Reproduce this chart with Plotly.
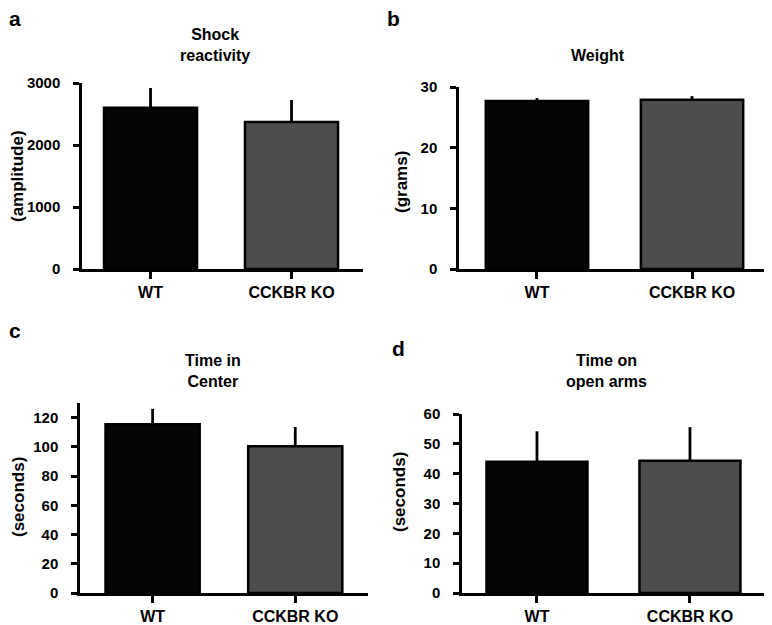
import plotly.graph_objects as go

groups = ["WT", "CCKBR KO"]
colors = ["#050505", "#4d4d4d"]

shock_mean = [2600, 2370]
shock_err = [320, 355]
weight_mean = [27.7, 27.9]
weight_err = [0.5, 0.6]
center_mean = [115.5, 100.4]
center_err = [10.5, 13.2]
arms_mean = [44.0, 44.3]
arms_err = [10.2, 11.3]

FONT = "Liberation Sans, Arial, Helvetica, sans-serif"
W, H = 772, 625
OFF = 8  # the page body adds an 8px margin around the figure


def fx(px):
    return (px - OFF) / W


def fy(py):
    return 1 - (py - OFF) / H


# panel: (means, errs, title, ytitle, letter, x px, y px, x range, y range, dtick)
panels = [
    (shock_mean, shock_err, "Shock<br>reactivity", "(amplitude)", "a",
     (82, 363), (269, 83), [-0.486, 1.507], [0, 3000], 1000),
    (weight_mean, weight_err, "Weight", "(grams)", "b",
     (459, 768), (269, 87), [-0.503, 1.49], [0, 30], 10),
    (center_mean, center_err, "Time in<br>Center", "(seconds)", "c",
     (80, 368), (593, 403), [-0.509, 1.51], [0, 130], 20),
    (arms_mean, arms_err, "Time on<br>open arms", "(seconds)", "d",
     (462, 768), (593, 414), [-0.49, 1.51], [0, 60], 10),
]

title_pos = [(215, 45), (598, 55), (213, 371), (606, 371)]
ytitle_pos = [(18, 176), (401, 182), (18, 497), (399, 492)]
letter_pos = [(15, 19), (393, 19), (15, 330), (398, 348)]

fig = go.Figure()
annotations = []

for i, (means, errs, title, ytitle, letter, xpx, ypx, xr, yr, dt) in enumerate(panels):
    n = "" if i == 0 else str(i + 1)
    fig.add_trace(go.Bar(
        x=groups, y=means,
        marker=dict(color=colors, line=dict(color="black", width=2.5)),
        width=0.66,
        error_y=dict(type="data", symmetric=False, array=errs,
                     arrayminus=[0] * len(errs), color="black",
                     thickness=2.8, width=0),
        xaxis="x" + n, yaxis="y" + n, showlegend=False,
    ))
    fig.layout["xaxis" + n] = dict(
        domain=[fx(xpx[0]), fx(xpx[1])], anchor="y" + n, type="category",
        range=xr, showline=True, linecolor="black", linewidth=2.5,
        ticks="outside", ticklen=7, tickwidth=2.5, tickcolor="black",
        tickfont=dict(family=FONT, size=16, color="black", weight="bold"),
        showgrid=False, zeroline=False, fixedrange=True, automargin=False,
    )
    fig.layout["yaxis" + n] = dict(
        domain=[fy(ypx[0]), fy(ypx[1])], anchor="x" + n,
        range=yr, dtick=dt, showline=True, linecolor="black", linewidth=2.5,
        ticks="outside", ticklen=6, tickwidth=2.5, tickcolor="black",
        ticklabelstandoff=10,
        tickfont=dict(family=FONT, size=15, color="black", weight="bold"),
        showgrid=False, zeroline=False, fixedrange=True, automargin=False,
    )
    tx, ty = title_pos[i]
    annotations.append(dict(text=title, x=fx(tx), y=fy(ty), xref="paper", yref="paper",
                            showarrow=False, xanchor="center", yanchor="middle",
                            font=dict(family=FONT, size=16, color="black", weight="bold")))
    yx, yy = ytitle_pos[i]
    annotations.append(dict(text=ytitle, x=fx(yx), y=fy(yy), xref="paper", yref="paper",
                            showarrow=False, xanchor="center", yanchor="middle", textangle=-90,
                            font=dict(family=FONT, size=17, color="black", weight="bold")))
    lx, ly = letter_pos[i]
    annotations.append(dict(text=letter, x=fx(lx), y=fy(ly), xref="paper", yref="paper",
                            showarrow=False, xanchor="center", yanchor="middle",
                            font=dict(family=FONT, size=21, color="black", weight="bold")))

fig.update_layout(
    width=W, height=H, margin=dict(l=0, r=0, t=0, b=0),
    paper_bgcolor="white", plot_bgcolor="white",
    annotations=annotations, bargap=0.3,
)

fig.write_html("out.html")
